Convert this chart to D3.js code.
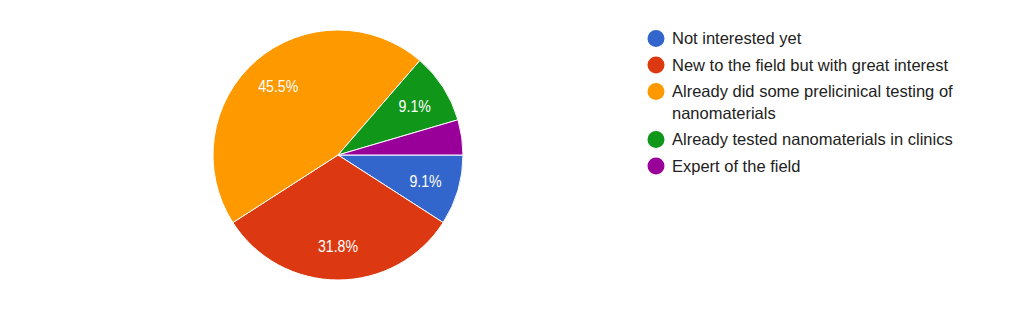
<!DOCTYPE html>
<html>
<head>
<meta charset="utf-8">
<script src="https://cdn.jsdelivr.net/npm/d3@7"></script>
<style>
  html, body { margin: 0; padding: 0; background: #fff; }
  svg { display: block; font-family: "Liberation Sans", Arial, sans-serif; }
</style>
</head>
<body>
<svg id="chart" width="1024" height="311"></svg>
<script>
const categories = [
  "Not interested yet",
  "New to the field but with great interest",
  "Already did some prelicinical testing of nanomaterials",
  "Already tested nanomaterials in clinics",
  "Expert of the field"
];
const legendLines = [
  ["Not interested yet"],
  ["New to the field but with great interest"],
  ["Already did some prelicinical testing of", "nanomaterials"],
  ["Already tested nanomaterials in clinics"],
  ["Expert of the field"]
];
const values = [2, 7, 10, 2, 1];
const colors = ["#3366cc", "#dc3912", "#ff9900", "#109618", "#990099"];

const svg = d3.select("#chart");
const cx = 338, cy = 155, R = 125;

const total = d3.sum(values);
const pie = d3.pie().sort(null).value(d => d)
  .startAngle(Math.PI / 2).endAngle(Math.PI / 2 + 2 * Math.PI);
const arcs = pie(values);
const arc = d3.arc().innerRadius(0).outerRadius(R);
const labelArc = d3.arc().innerRadius(R * 0.73).outerRadius(R * 0.73);

const g = svg.append("g").attr("transform", `translate(${cx},${cy})`);
g.selectAll("path").data(arcs).join("path")
  .attr("d", arc)
  .attr("fill", (d, i) => colors[i])
  .attr("stroke", "#fff")
  .attr("stroke-width", 1);

g.selectAll("text").data(arcs.filter(d => d.value / total >= 0.05)).join("text")
  .attr("transform", d => `translate(${labelArc.centroid(d)}) scale(0.86,1)`)
  .attr("text-anchor", "middle")
  .attr("dy", "0.36em")
  .attr("fill", "#fff")
  .attr("font-size", 16.5)
  .text(d => (d.value / total * 100).toFixed(1) + "%");

// Legend
const itemStep = 26.5, wrapStep = 21.5, legendTop = 38.5;
let extra = 0;
const lg = svg.append("g");
legendLines.forEach((lines, i) => {
  const y = legendTop + i * itemStep + extra * wrapStep;
  extra += lines.length - 1;
  lg.append("circle").attr("cx", 656).attr("cy", y).attr("r", 8.5).attr("fill", colors[i]);
  lines.forEach((ln, j) => {
    lg.append("text").attr("x", 672).attr("y", y + j * wrapStep).attr("dy", "0.36em")
      .attr("font-size", 16.5).attr("fill", "#222").text(ln);
  });
});
</script>
</body>
</html>
